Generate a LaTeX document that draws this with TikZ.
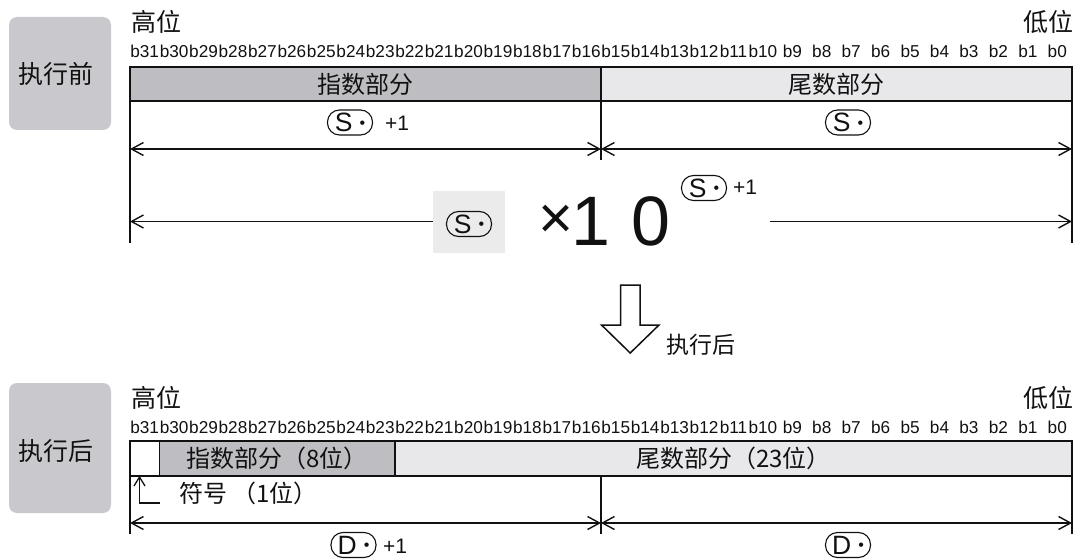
\documentclass[tikz,border=0pt]{standalone}
\usepackage{fontspec}
\setmainfont{Liberation Sans}
\newfontfamily\cjk{Noto Sans CJK SC}
\usetikzlibrary{arrows.meta}
\definecolor{lbl}{HTML}{C9C9CD}
\definecolor{dk}{HTML}{BEBEC2}
\definecolor{lt}{HTML}{E8E8EA}
\definecolor{hl}{HTML}{EBEBEB}
\definecolor{ink}{HTML}{111111}
\begin{document}
\begin{tikzpicture}[x=1pt,y=-1pt,
  every node/.style={inner sep=0pt, outer sep=0pt, text=ink},
  tagbox/.style={fill=lbl, rounded corners=8pt, minimum width=102pt, minimum height=113pt},
  tagtext/.style={font=\cjk\fontsize{25}{25}\selectfont},
  hilo/.style={font=\cjk\fontsize{25}{25}\selectfont},
  bit/.style={font=\fontsize{17.2}{17.2}\selectfont},
  cell/.style={draw=ink, line width=1.7pt, minimum height=34.5pt, font=\cjk\fontsize{24}{24}\selectfont},
  opnd/.style={draw=ink, line width=1.1pt, rounded corners=12pt, minimum width=45pt, minimum height=25pt, font=\fontsize{26.5}{26.5}\selectfont},
  plus/.style={font=\fontsize{21}{21}\selectfont},
  frame/.style={draw=ink, line width=1.7pt},
  dim/.style={draw=ink, line width=1.4pt, {Straight Barb[length=12pt,width=13pt]}-{Straight Barb[length=12pt,width=13pt]}},
  dimone/.style={draw=ink, line width=1.4pt, -{Straight Barb[length=12pt,width=13pt]}},
]
\useasboundingbox (0,0) rectangle (1076,559);
\newcommand{\opS}[1]{#1\hspace{7pt}\raisebox{3.5pt}{\fontsize{16}{16}\selectfont\textbullet}}

% ---------- before ----------
\node[tagbox] (tag1) at (60,73.5) {};
\node[tagtext] (tag1t) at (56,74) {执行前};
\node[hilo, anchor=west] (hi1) at (131,22) {高位};
\node[hilo, anchor=east] (lo1) at (1073,22) {低位};
\foreach \i in {0,...,31}{
  \node[bit] (tb\i) at ({130+(31-\i+0.5)*29.4375},51) {b\i};
}
\node[cell, fill=dk, minimum width=471pt] (exp1) at (365.5,84) {指数部分};
\node[cell, fill=lt, minimum width=471pt] (man1) at (836.5,84) {尾数部分};

\coordinate (LB1) at (130,243);
\coordinate (RB1) at (1072,243);
\coordinate (MB1) at (601,160);
\draw[frame] (exp1.north west) -- (LB1);
\draw[frame] (man1.north east) -- (RB1);
\draw[frame] (exp1.south east) -- (MB1);

\node[opnd] (s1) at (350,122.5) {\opS{S}};
\node[plus, anchor=west] (p1) at (385,123) {+1};
\node[opnd] (s2) at (848,122.5) {\opS{S}};

\coordinate (L1) at (130,149);
\coordinate (M1) at (601,149);
\coordinate (R1) at (1072,149);
\draw[dim] (L1) -- (M1);
\draw[dim] (M1) -- (R1);

% expression line
\node[fill=hl, minimum width=72pt, minimum height=62pt] (hlb) at (469,221.5) {};
\node[opnd] (s3) at (469,224) {\opS{S}};
\node[font=\fontsize{60}{60}\selectfont] (times) at (556,222) {×};
\node[font=\fontsize{70}{70}\selectfont] (one) at (591,221.5) {1};
\node[font=\fontsize{70}{70}\selectfont] (zero) at (651,221.5) {0};
\node[opnd] (s4) at (704,188) {\opS{S}};
\node[plus, anchor=west] (p4) at (733,187) {+1};
\coordinate (LA2) at (130,221.5);
\coordinate (RS2) at (770,221.5);
\coordinate (RA2) at (1072,221.5);
\draw[dimone] (hlb.west) -- (LA2);
\draw[dimone] (RS2) -- (RA2);

% down arrow
\draw[draw=ink, line width=1.5pt, fill=white, line join=miter]
  (620.5,285) -- (640,285) -- (640,325) -- (659,325) -- (630.2,353) -- (601.5,325) -- (620.5,325) -- cycle;
\node[font=\cjk\fontsize{23}{23}\selectfont, anchor=west] (after) at (666,345) {执行后};

% ---------- after ----------
\node[tagbox, minimum height=130pt] (tag2) at (60,448) {};
\node[tagtext] (tag2t) at (56,451) {执行后};
\node[hilo, anchor=west] (hi2) at (131,398) {高位};
\node[hilo, anchor=east] (lo2) at (1073,398) {低位};
\foreach \i in {0,...,31}{
  \node[bit] (bb\i) at ({130+(31-\i+0.5)*29.4375},427) {b\i};
}
\node[cell, fill=white, minimum width=29.4pt] (sgn) at (144.7,458.5) {};
\node[cell, fill=dk, minimum width=235.6pt] (exp2) at (277.2,458.5) {指数部分（8位）};
\node[cell, fill=lt, minimum width=677pt] (man2) at (733.5,458.5) {尾数部分（23位）};

\coordinate (LB2) at (130,534);
\coordinate (RB2) at (1072,534);
\coordinate (MB2) at (601,534);
\coordinate (MT2) at (601,476);
\draw[frame] (sgn.north west) -- (LB2);
\draw[frame] (man2.north east) -- (RB2);
\draw[frame] (MT2) -- (MB2);

\coordinate (SA) at (160,503);
\coordinate (SB) at (139.5,503);
\draw[draw=ink, line width=1.3pt, -{Straight Barb[length=9pt,width=11pt]}] (SA) -- (SB) -- (SB |- sgn.south);
\node[font=\cjk\fontsize{24}{24}\selectfont, anchor=west] (sgnt) at (179,493) {符号 （1位）};

\coordinate (L2) at (130,523);
\coordinate (M2) at (601,523);
\coordinate (R2) at (1072,523);
\draw[dim] (L2) -- (M2);
\draw[dim] (M2) -- (R2);

\node[opnd] (d1) at (353.5,545) {\opS{D}};
\node[plus, anchor=west] (pd1) at (383,546) {+1};
\node[opnd] (d2) at (848,545) {\opS{D}};
\end{tikzpicture}
\end{document}
